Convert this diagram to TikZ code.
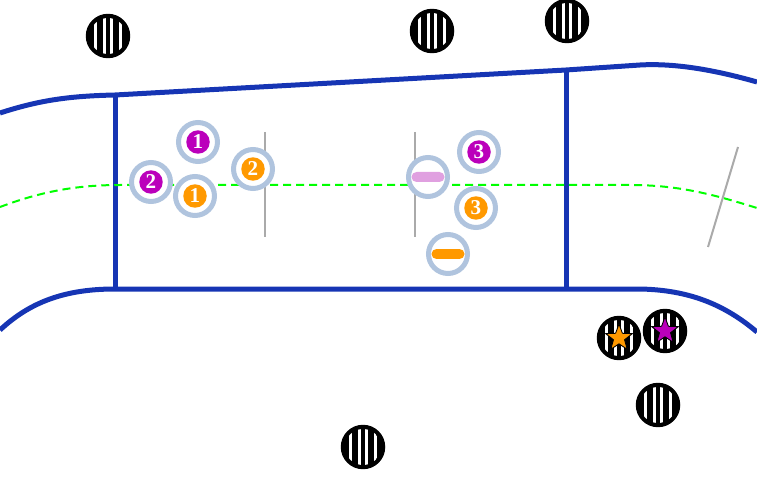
\documentclass[tikz,border=0pt]{standalone}
\usepackage{fontspec}
\setmainfont{Liberation Serif}
\usetikzlibrary{shapes.geometric}
\definecolor{roadblue}{RGB}{22,53,180}
\definecolor{ringblue}{RGB}{176,196,222}
\definecolor{tokpurple}{RGB}{187,0,187}
\definecolor{tokorange}{RGB}{255,153,0}
\definecolor{barpink}{RGB}{224,160,224}
\definecolor{markgray}{RGB}{170,170,170}
\begin{document}
\begin{tikzpicture}[x=0.02cm, y=-0.02cm,
  road/.style={roadblue, line width=0.1cm},
  centre/.style={green, line width=0.04cm, dash pattern=on 0.16cm off 0.1cm},
  tick/.style={markgray, line width=0.04cm},
  ring/.style={circle, draw=ringblue, fill=white, line width=0.1cm, minimum size=0.78cm, inner sep=0pt},
  disk/.style={circle, fill=#1, text=white, minimum size=0.47cm, inner sep=0pt,
    font=\fontsize{12}{12}\selectfont\bfseries},
  bar/.style={rectangle, fill=#1, rounded corners=0.1cm, minimum width=0.66cm, minimum height=0.2cm, inner sep=0pt},
  grate/.style={circle, fill=black, minimum size=0.89cm, inner sep=0pt},
  starmark/.style={star, star points=5, star point ratio=2.4, fill=#1, draw=black, line width=0.5pt,
    minimum size=0.56cm, inner sep=0pt}]
\useasboundingbox (0,0) rectangle (757,493);

% road edges
\draw[road] (0,113) .. controls (40,100) and (70,96) .. (115,95) -- (566,70) -- (640,65)
  .. controls (675,63) and (715,70) .. (757,82);
\draw[road] (0,330) .. controls (30,302) and (65,289) .. (115,289) -- (640,289)
  .. controls (690,290) and (725,305) .. (757,332);
\draw[road] (115,95) -- (115,289);
\draw[road] (566,70) -- (566,289);

% centre line
\draw[centre] (0,207) .. controls (40,192) and (75,185) .. (120,185) -- (630,185)
  .. controls (680,185) and (715,195) .. (757,208);

% grey marks
\draw[tick] (265,132) -- (265,237);
\draw[tick] (415,132) -- (415,237);
\draw[tick] (738,147) -- (708,247);

% tokens
\node[ring] (p1) at (198,142) {};
\node[disk=tokpurple] (p1n) at (p1) {1};
\node[ring] (p2) at (151,182) {};
\node[disk=tokpurple] (p2n) at (p2) {2};
\node[ring] (o1) at (195,196) {};
\node[disk=tokorange] (o1n) at (o1) {1};
\node[ring] (o2) at (253,169) {};
\node[disk=tokorange] (o2n) at (o2) {2};
\node[ring] (p3) at (479,152) {};
\node[disk=tokpurple] (p3n) at (p3) {3};
\node[ring] (o3) at (476,208) {};
\node[disk=tokorange] (o3n) at (o3) {3};
\node[ring] (pb) at (428,177) {};
\node[bar=barpink] (pbn) at (pb) {};
\node[ring] (ob) at (448,254) {};
\node[bar=tokorange] (obn) at (ob) {};

% grates
\node[grate] (g1) at (108,36) {};
\node[grate] (g2) at (432,31) {};
\node[grate] (g3) at (567,21) {};
\node[grate] (g4) at (619,338) {};
\node[grate] (g5) at (665,331) {};
\node[grate] (g6) at (658,405) {};
\node[grate] (g7) at (363,447) {};
\foreach \g in {g1,g2,g3,g4,g5,g6,g7} {
  \begin{scope}
    \clip (\g) circle (18);
    \foreach \dx in {-13.8,-5,2.4,11.2}
      \fill[white] (\g) ++(\dx,-25) rectangle ++(2.6,50);
  \end{scope}
}
\node[starmark=tokorange] (s1) at (g4) {};
\node[starmark=tokpurple] (s2) at (g5) {};
\end{tikzpicture}
\end{document}
